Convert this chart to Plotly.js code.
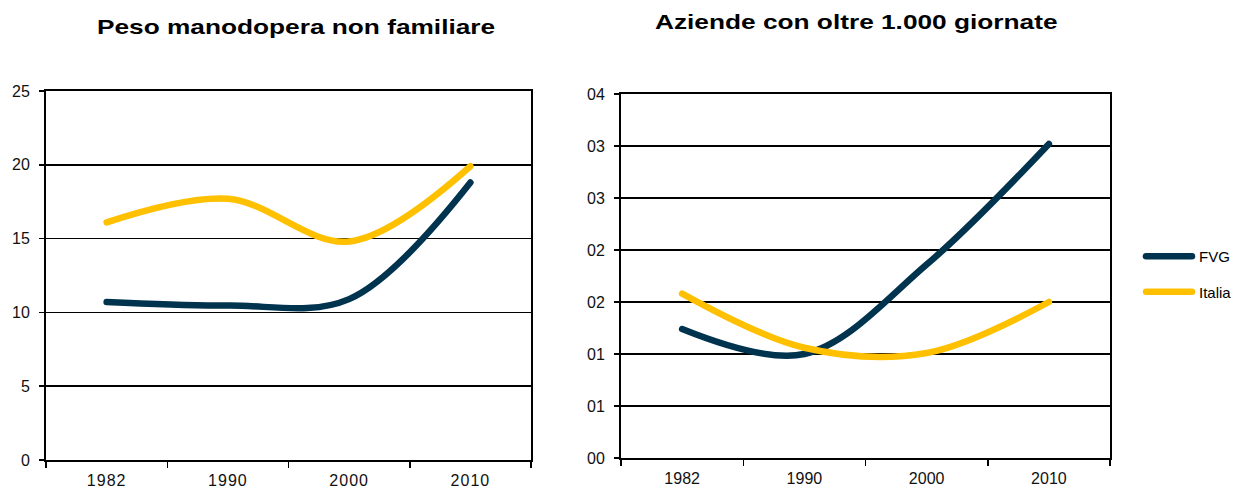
<!DOCTYPE html>
<html>
<head>
<meta charset="utf-8">
<script src="https://cdn.plot.ly/plotly-3.0.1.min.js"></script>
<style>
html,body{margin:0;padding:0;background:#fff;}
#chart{width:1241px;height:488px;}
path.js-line{stroke-linecap:round !important;stroke-linejoin:round !important;}
.annotation-text{transform-box:fill-box;transform-origin:center;transform:scaleX(1.25);}
.xtick text{letter-spacing:1px;}
</style>
</head>
<body>
<div id="chart"></div>
<script>
// Data
const years = ["1982", "1990", "2000", "2010"];
const seriesNames = ["FVG", "Italia"];
const pesoFVG = [10.7, 10.47, 10.9, 18.8];
const pesoItalia = [16.1, 17.7, 14.8, 19.9];
const aziendeFVG = [1.24, 1.0, 1.86, 3.02];
const aziendeItalia = [1.58, 1.06, 1.01, 1.50];
const rightTickVals = [0, 0.5, 1, 1.5, 2, 2.5, 3, 3.5];
const rightTickText = ["00", "01", "01", "02", "02", "03", "03", "04"];
const titleLeft = "Peso manodopera non familiare";
const titleRight = "Aziende con oltre 1.000 giornate";

const cFVG = "#00334E";
const cIT = "#FFC000";
const W = 1241, H = 488;
const font = "Liberation Sans, Arial, sans-serif";

function tr(x, y, name, color, xa, ya, show) {
  return {
    x: x, y: y, name: name, type: "scatter", mode: "lines",
    xaxis: xa, yaxis: ya, showlegend: show, legendgroup: name,
    line: {color: color, width: 6.5, shape: "spline", smoothing: 1},
    hoverinfo: "skip"
  };
}

const data = [
  tr(years, pesoFVG, seriesNames[0], cFVG, "x", "y", true),
  tr(years, pesoItalia, seriesNames[1], cIT, "x", "y", true),
  tr(years, aziendeFVG, seriesNames[0], cFVG, "x2", "y2", false),
  tr(years, aziendeItalia, seriesNames[1], cIT, "x2", "y2", false)
];

const xBase = {
  type: "category", tickson: "boundaries", ticks: "outside", ticklen: 6,
  tickwidth: 1.5, tickcolor: "#000", showgrid: false, showline: true,
  linecolor: "#000", linewidth: 2, mirror: true, zeroline: false,
  ticklabelstandoff: 5,
  tickfont: {family: font, size: 16, color: "#111"}, fixedrange: true
};
const yBase = {
  ticks: "outside", ticklen: 5, tickwidth: 1.5, tickcolor: "#000",
  showgrid: true, gridcolor: "#000", gridwidth: 1.5, showline: true,
  linecolor: "#000", linewidth: 2, mirror: true, zeroline: false,
  ticklabelstandoff: 6,
  tickfont: {family: font, size: 16, color: "#111"}, fixedrange: true
};

const layout = {
  width: W, height: H,
  margin: {l: 0, r: 0, t: 0, b: 0},
  paper_bgcolor: "#fff", plot_bgcolor: "#fff",
  font: {family: font, color: "#000"},
  xaxis: Object.assign({}, xBase, {domain: [46 / W, 531 / W], anchor: "y", range: [-0.5, 3.5]}),
  yaxis: Object.assign({}, yBase, {domain: [(H - 460) / H, (H - 91) / H], anchor: "x", range: [0, 25], dtick: 5, tick0: 0}),
  xaxis2: Object.assign({}, xBase, {domain: [621 / W, 1110 / W], anchor: "y2", range: [-0.5, 3.5]}),
  yaxis2: Object.assign({}, yBase, {domain: [(H - 458) / H, (H - 94) / H], anchor: "x2", range: [0, 3.5], tickmode: "array", tickvals: rightTickVals, ticktext: rightTickText}),
  showlegend: true,
  legend: {
    x: 1159 / W, y: (H - 240) / H, xanchor: "left", yanchor: "top",
    font: {family: font, size: 15, color: "#000"},
    tracegroupgap: 13, bgcolor: "rgba(0,0,0,0)", borderwidth: 0
  },
  annotations: [
    {text: "<b>" + titleLeft + "</b>", xref: "paper", yref: "paper", x: 296 / W, y: (H - 27) / H,
     xanchor: "center", yanchor: "middle", showarrow: false, font: {family: font, size: 21, color: "#000"}},
    {text: "<b>" + titleRight + "</b>", xref: "paper", yref: "paper", x: 856 / W, y: (H - 22) / H,
     xanchor: "center", yanchor: "middle", showarrow: false, font: {family: font, size: 21, color: "#000"}}
  ]
};

Plotly.newPlot("chart", data, layout, {displayModeBar: false, staticPlot: true}).then(function (gd) {
  // lengthen legend line samples to match the reference
  gd.querySelectorAll(".legend [clip-path]").forEach(function (el) {
    el.removeAttribute("clip-path");
  });
  gd.querySelectorAll(".legendlines path").forEach(function (p) {
    p.setAttribute("d", "M-13,0h46");
  });
});
</script>
</body>
</html>
